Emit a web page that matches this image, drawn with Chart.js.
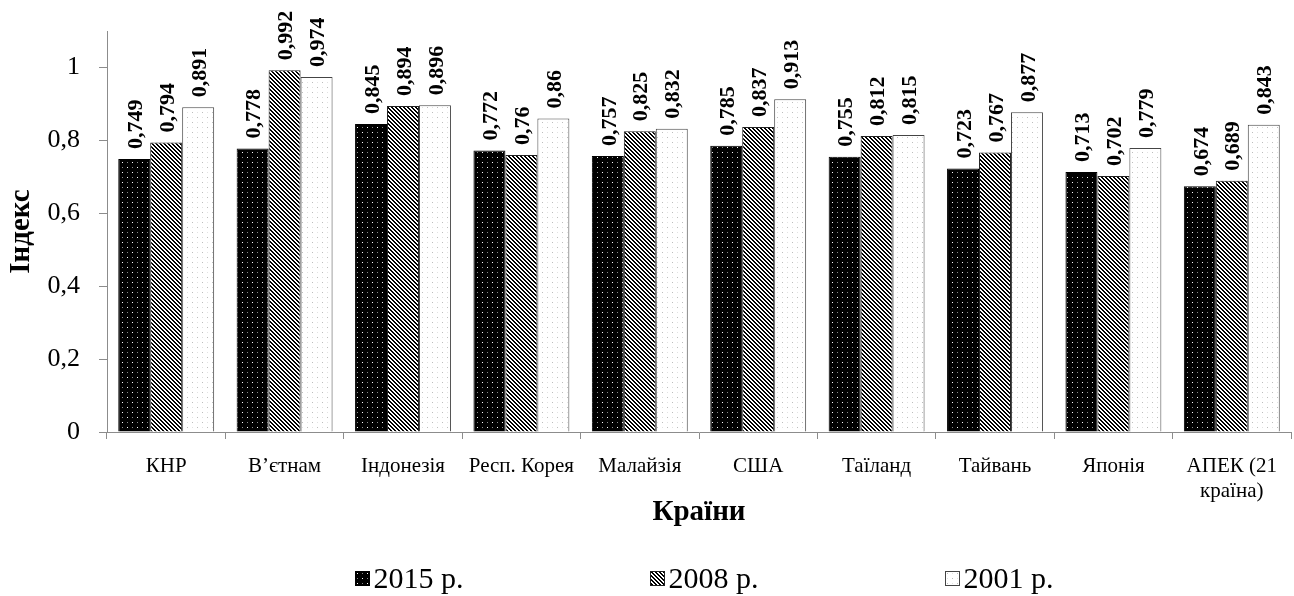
<!DOCTYPE html>
<html lang="uk">
<head>
<meta charset="utf-8">
<title>Індекс</title>
<script src="https://cdn.jsdelivr.net/npm/chart.js@4.4.1/dist/chart.umd.min.js"></script>
<style>
  html, body { margin: 0; padding: 0; background: #fff; }
  #wrap { position: relative; width: 1294px; height: 596px; overflow: hidden; }
  #chart { position: absolute; left: 0; top: 0; }
  #legend {
    position: absolute; left: 112px; width: 1184px; top: 562px;
    display: flex; justify-content: center; gap: 186px;
    font-family: 'Liberation Serif', 'Times New Roman', serif;
    font-size: 30px; line-height: 32px; color: #000;
  }
  .item { display: flex; align-items: center; white-space: nowrap; }
  .item canvas { margin-right: 4px; }
</style>
</head>
<body>
<div id="wrap">
  <canvas id="chart" width="1294" height="596"></canvas>
  <div id="legend"></div>
</div>
<script>
// Data
const categories = ['КНР', 'В’єтнам', 'Індонезія', 'Респ. Корея', 'Малайзія', 'США',
                    'Таїланд', 'Тайвань', 'Японія', ['АПЕК (21', 'країна)']];
const values2015 = [0.749, 0.778, 0.845, 0.772, 0.757, 0.785, 0.755, 0.723, 0.713, 0.674];
const values2008 = [0.794, 0.992, 0.894, 0.76, 0.825, 0.837, 0.812, 0.767, 0.702, 0.689];
const values2001 = [0.891, 0.974, 0.896, 0.86, 0.832, 0.913, 0.815, 0.877, 0.779, 0.843];
const seriesLabels = ['2015 р.', '2008 р.', '2001 р.'];
const yTicks = [0, 0.2, 0.4, 0.6, 0.8, 1];
const yTitle = 'Індекс';
const xTitle = 'Країни';

const serif = '"Liberation Serif", "Times New Roman", serif';
const formatNum = v => String(v).replace('.', ',');

const canvas = document.getElementById('chart');
const ctx = canvas.getContext('2d');

// Build a small repeating tile and turn it into a fill pattern
function makePattern(size, draw) {
    const tile = document.createElement('canvas');
    tile.width = size;
    tile.height = size;
    draw(tile.getContext('2d'));
    return ctx.createPattern(tile, 'repeat');
}

function dots(bg, bright, dim) {
    return makePattern(10, g => {
        g.fillStyle = bg;
        g.fillRect(0, 0, 10, 10);
        g.fillStyle = bright;
        g.fillRect(2, 2, 1, 1);
        g.fillRect(7, 7, 1, 1);
        g.fillStyle = dim;
        g.fillRect(7, 2, 1, 1);
        g.fillRect(2, 7, 1, 1);
    });
}

const stripes = makePattern(4, g => {
    for (let x = 0; x < 4; x++) {
        for (let y = 0; y < 4; y++) {
            g.fillStyle = ((x - y + 8) % 4 < 2) ? '#000' : '#fff';
            g.fillRect(x, y, 1, 1);
        }
    }
});

const fills = [dots('#000', '#fff', '#888'), stripes, dots('#fff', '#bcbcbc', '#e2e2e2')];
const borders = ['#000', '#222', '#444'];

// Rotated value labels above each bar, plus the x axis title
const barValueLabels = {
    id: 'barValueLabels',
    afterDatasetsDraw(chart) {
        const c = chart.ctx;
        c.save();
        c.fillStyle = '#000';
        c.font = 'bold 22px ' + serif;
        c.textAlign = 'left';
        c.textBaseline = 'middle';
        chart.data.datasets.forEach((ds, i) => {
            chart.getDatasetMeta(i).data.forEach((bar, j) => {
                c.save();
                c.translate(bar.x, bar.y - 10);
                c.rotate(-Math.PI / 2);
                c.fillText(formatNum(ds.data[j]), 0, 2);
                c.restore();
            });
        });
        const area = chart.chartArea;
        c.font = 'bold 29px ' + serif;
        c.textAlign = 'center';
        c.fillText(xTitle, (area.left + area.right) / 2, area.bottom + 81);
        c.restore();
    }
};

new Chart(ctx, {
    type: 'bar',
    data: {
        labels: categories,
        datasets: [values2015, values2008, values2001].map((vals, i) => ({
            label: seriesLabels[i],
            data: vals,
            backgroundColor: fills[i],
            borderColor: borders[i],
            borderWidth: 1,
            categoryPercentage: 0.81,
            barPercentage: 1
        }))
    },
    options: {
        responsive: false,
        animation: false,
        layout: { padding: { top: 31, right: 3, left: 0, bottom: 0 } },
        plugins: {
            legend: { display: false },
            tooltip: { enabled: false }
        },
        scales: {
            x: {
                afterFit: scale => { scale.height = 164; },
                border: { color: '#8c8c8c', width: 1 },
                grid: { offset: true, drawOnChartArea: false, tickLength: 7, color: '#8c8c8c' },
                ticks: {
                    padding: 15,
                    maxRotation: 0,
                    autoSkip: false,
                    color: '#000',
                    font: { family: serif, size: 21 }
                }
            },
            y: {
                min: 0,
                max: 1.1,
                afterBuildTicks: axis => { axis.ticks = yTicks.map(v => ({ value: v })); },
                afterFit: scale => {
                    scale.width = 107;
                    // the top label sits well below the top, so no extra room is needed
                    scale.paddingTop = 0;
                    scale.paddingBottom = 0;
                },
                border: { color: '#8c8c8c', width: 1 },
                grid: { drawOnChartArea: false, tickLength: 8, color: '#8c8c8c' },
                ticks: {
                    padding: 19,
                    color: '#000',
                    font: { family: serif, size: 26 },
                    callback: v => formatNum(v)
                },
                title: {
                    display: true,
                    text: yTitle,
                    color: '#000',
                    padding: { top: 4, bottom: 0 },
                    font: { family: serif, size: 29, weight: 'bold' }
                }
            }
        }
    },
    plugins: [barValueLabels]
});

// Legend as HTML, with little swatches painted from the same patterns
const legend = document.getElementById('legend');
seriesLabels.forEach((label, i) => {
    const item = document.createElement('div');
    item.className = 'item';
    const box = document.createElement('canvas');
    box.width = 15;
    box.height = 15;
    const g = box.getContext('2d');
    g.fillStyle = fills[i];
    g.fillRect(0, 0, 15, 15);
    g.strokeStyle = borders[i];
    g.strokeRect(0.5, 0.5, 14, 14);
    item.appendChild(box);
    const text = document.createElement('span');
    text.textContent = label;
    item.appendChild(text);
    legend.appendChild(item);
});
</script>
</body>
</html>
